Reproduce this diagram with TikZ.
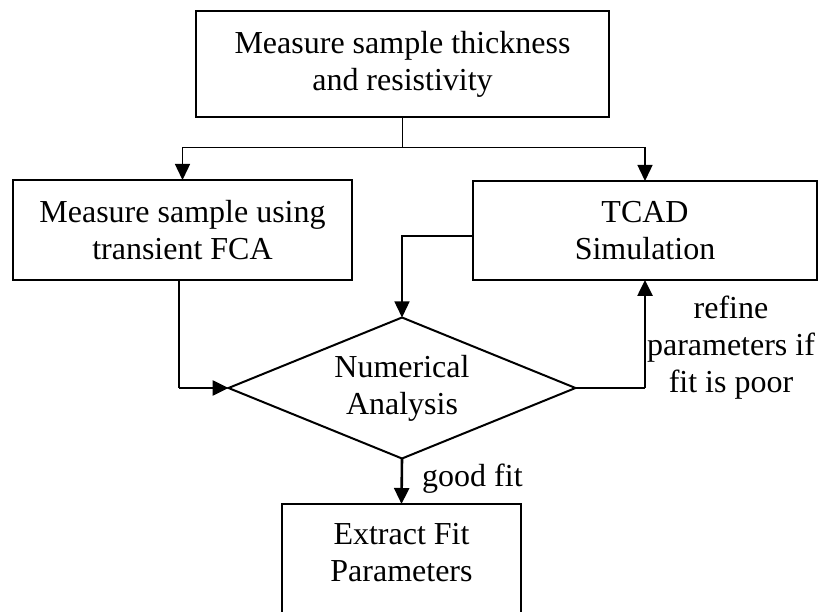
\documentclass[tikz,border=0pt]{standalone}
\usepackage{fontspec}
\setmainfont{Liberation Serif}
\usetikzlibrary{arrows.meta,shapes.geometric}

\begin{document}
\begin{tikzpicture}[x=1pt,y=-1pt,
  every node/.style={font=\fontsize{32}{37}\selectfont, align=center},
  stepbox/.style={draw, line width=2pt, inner sep=0pt, outer sep=0pt},
  decision/.style={draw, diamond, line width=2pt, inner sep=0pt, outer sep=0pt, aspect=2.46},
  thinline/.style={line width=1.4pt},
  thickline/.style={line width=2.6pt},
  tip/.style={-{Triangle[length=16pt,width=15pt]}},
  note/.style={inner sep=0pt}
]
  % page area
  \fill[white] (0,0) rectangle (822,612);
  \useasboundingbox (0,0) rectangle (822,612);

  % process steps
  \node[stepbox, minimum width=413pt, minimum height=106pt] (measure) at (402.5,64)
    {Measure sample thickness\\and resistivity};
  \node[stepbox, minimum width=339pt, minimum height=100pt] (fca) at (182.5,230)
    {Measure sample using\\transient FCA};
  \node[stepbox, minimum width=344pt, minimum height=99pt] (tcad) at (645,230.5)
    {TCAD\\Simulation};
  \node[decision, minimum width=347pt, minimum height=141pt] (analysis) at (402,388)
    {Numerical\\Analysis};
  \node[stepbox, minimum width=239pt, minimum height=114pt, anchor=north] (extract) at (401.5,504) {};
  \node[note] (extracttext) at (401.5,552.5) {Extract Fit\\Parameters};

  % labels
  \node[note, anchor=west] (goodfit) at (422,479) {good fit};
  \node[note] (refine) at (731,348) {refine\\parameters if\\fit is poor};

  % split from the first measurement
  \coordinate (split) at ([yshift=-30.5pt]measure.south);
  \draw[thinline] (measure.south) -- (split);
  \draw[thinline, tip] (split) -| (fca.north);
  \draw[thinline, tip] (split) -| (tcad.north);

  % simulation result into the analysis
  \draw[thinline, tip] ([yshift=-5.5pt]tcad.west) -| (analysis.north);

  % measured data into the analysis
  \coordinate (fcabend) at ([xshift=-3.5pt]fca.south |- analysis.west);
  \draw[thinline] ([xshift=-3.5pt]fca.south) -- (fcabend);
  \draw[thickline, tip] (fcabend) -- (analysis.west);

  % refinement loop back to the simulation
  \coordinate (refbend) at (analysis.east -| tcad.south);
  \draw[line width=1.7pt] (analysis.east) -- (refbend);
  \draw[thickline, tip] (refbend) -- (tcad.south);

  % good fit
  \draw[thickline, tip] (analysis.south) -- (extract.north);
\end{tikzpicture}
\end{document}
